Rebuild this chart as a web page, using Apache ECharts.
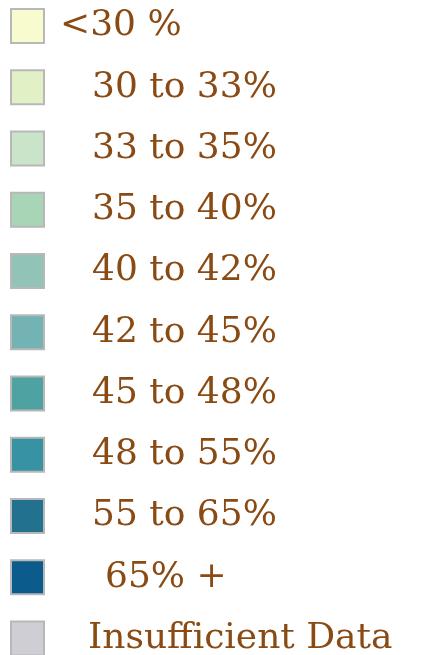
<!DOCTYPE html>
<html>
<head>
<meta charset="utf-8">
<script src="https://cdn.jsdelivr.net/npm/echarts@6/dist/echarts.min.js"></script>
<style>
html,body{margin:0;padding:0;background:#fff;}
#chart{width:427px;height:655px;}
</style>
</head>
<body>
<div id="chart"></div>
<script>
const categories = ['<30 %', '30 to 33%', '33 to 35%', '35 to 40%', '40 to 42%', '42 to 45%', '45 to 48%', '48 to 55%', '55 to 65%', '65% +', 'Insufficient Data'];
const colors = ['#F8FBCE', '#E2F0C6', '#C9E4C8', '#A7D5B5', '#92C3B7', '#73B3B4', '#4FA2A2', '#3792A3', '#22718F', '#0B5C8C', '#CECED4'];
const textIndent = [11, 43, 43, 43, 43, 43, 43, 43, 43, 56, 39];

const chart = echarts.init(document.getElementById('chart'), null, {renderer: 'canvas'});
chart.setOption({
  animation: false,
  backgroundColor: '#ffffff',
  grid: {left: 0, right: 0, top: 0, bottom: 0, show: false},
  xAxis: {type: 'category', show: false, data: []},
  yAxis: {type: 'value', show: false},
  legend: {
    orient: 'vertical',
    left: 10,
    top: 8,
    width: 420,
    height: 2000,
    padding: 0,
    icon: 'rect',
    itemWidth: 33,
    itemHeight: 34,
    itemGap: 25.25,
    selectedMode: false,
    textStyle: {
      fontFamily: 'DejaVu Serif',
      fontSize: 36,
      lineHeight: 34,
      color: '#8A4A14'
    },
    data: categories.map((c, i) => ({
      name: c,
      itemStyle: {color: colors[i], borderColor: '#B8B8B8', borderWidth: 2},
      textStyle: {padding: [0, 0, 0, textIndent[i]]}
    }))
  },
  series: categories.map((c, i) => ({
    name: c,
    type: 'bar',
    data: [],
    itemStyle: {color: colors[i], borderColor: '#B8B8B8', borderWidth: 2}
  }))
});
</script>
</body>
</html>
